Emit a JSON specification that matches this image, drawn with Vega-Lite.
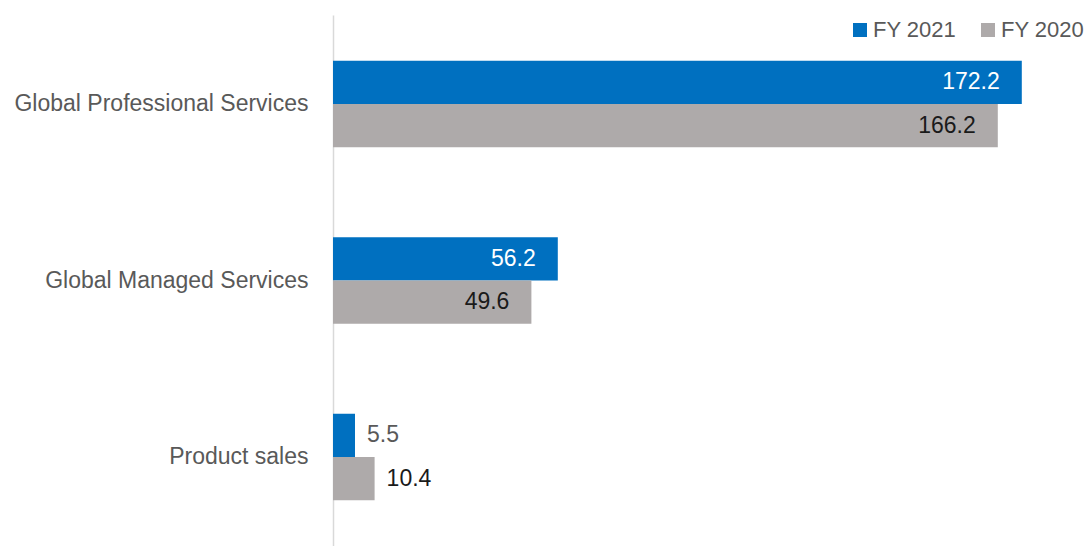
{
  "$schema": "https://vega.github.io/schema/vega-lite/v6.json",
  "width": 756,
  "height": 531,
  "autosize": {"type": "none"},
  "padding": {"left": 333, "top": 15, "right": 0, "bottom": 0},
  "background": "white",
  "config": {"view": {"stroke": null}, "font": "Liberation Sans"},
  "data": {
    "values": [
      {"category": "Global Professional Services", "series": "FY 2021", "value": 172.2},
      {"category": "Global Professional Services", "series": "FY 2020", "value": 166.2},
      {"category": "Global Managed Services", "series": "FY 2021", "value": 56.2},
      {"category": "Global Managed Services", "series": "FY 2020", "value": 49.6},
      {"category": "Product sales", "series": "FY 2021", "value": 5.5},
      {"category": "Product sales", "series": "FY 2020", "value": 10.4}
    ]
  },
  "encoding": {
    "y": {
      "field": "category",
      "type": "nominal",
      "sort": null,
      "scale": {"paddingInner": 0.51, "paddingOuter": 0.26},
      "axis": {
        "title": null,
        "ticks": false,
        "labelFontSize": 23,
        "labelLimit": 0,
        "labelColor": "#595959",
        "labelPadding": 25,
        "domainColor": "#D9D9D9",
        "domainWidth": 1.5
      }
    },
    "yOffset": {"field": "series", "type": "nominal", "sort": ["FY 2021", "FY 2020"], "scale": {"paddingInner": 0}},
    "x": {"field": "value", "type": "quantitative", "scale": {"domain": [0, 189], "nice": false}, "axis": null}
  },
  "layer": [
    {
      "mark": {"type": "bar"},
      "encoding": {
        "color": {
          "field": "series",
          "type": "nominal",
          "scale": {"domain": ["FY 2021", "FY 2020"], "range": ["#0070C0", "#AEAAAA"]},
          "legend": {
            "title": null,
            "orient": "top-right",
            "direction": "horizontal",
            "offset": 4,
            "symbolType": "square",
            "symbolSize": 196,
            "symbolStrokeWidth": 0,
            "labelFontSize": 22,
            "labelColor": "#595959",
            "columnPadding": 20,
            "labelOffset": 2
          }
        }
      }
    },
    {
      "transform": [{"filter": "datum.value > 20"}],
      "mark": {"type": "text", "align": "right", "baseline": "middle", "dx": -22, "fontSize": 23},
      "encoding": {
        "text": {"field": "value", "type": "quantitative", "format": ".1f"},
        "color": {
          "condition": {"test": "datum.series == 'FY 2021'", "value": "#FFFFFF"},
          "value": "#1A1A1A"
        }
      }
    },
    {
      "transform": [{"filter": "datum.value <= 20"}],
      "mark": {"type": "text", "align": "left", "baseline": "middle", "dx": 12, "fontSize": 23},
      "encoding": {
        "text": {"field": "value", "type": "quantitative", "format": ".1f"},
        "color": {
          "condition": {"test": "datum.series == 'FY 2021'", "value": "#595959"},
          "value": "#1A1A1A"
        }
      }
    }
  ]
}
